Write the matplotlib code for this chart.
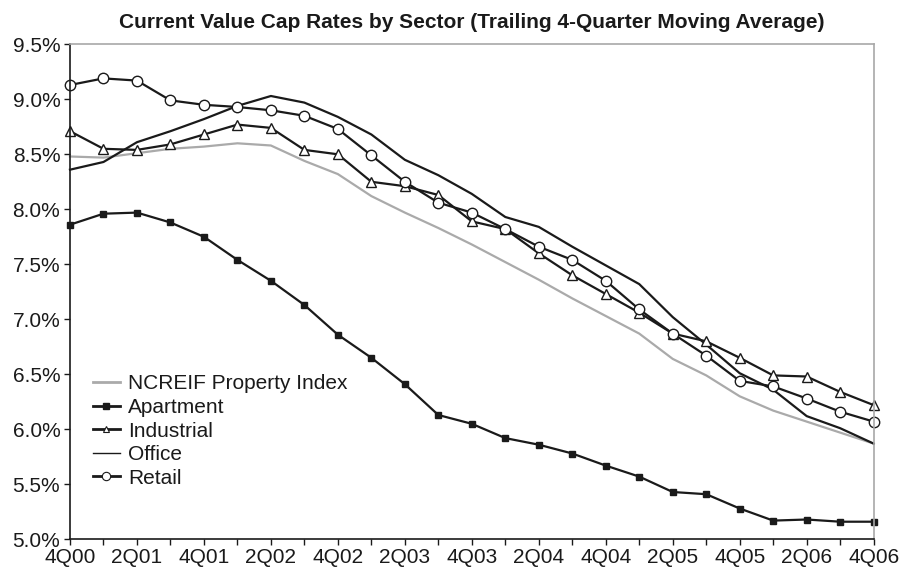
import numpy as np
import matplotlib.pyplot as plt
from matplotlib.lines import Line2D
from matplotlib.ticker import FuncFormatter

plt.rcParams['font.family'] = ['Liberation Sans', 'DejaVu Sans']

# quarters 4Q00 .. 4Q06
quarters = ['4Q00', '1Q01', '2Q01', '3Q01', '4Q01', '1Q02', '2Q02', '3Q02', '4Q02',
            '1Q03', '2Q03', '3Q03', '4Q03', '1Q04', '2Q04', '3Q04', '4Q04',
            '1Q05', '2Q05', '3Q05', '4Q05', '1Q06', '2Q06', '3Q06', '4Q06']

ncreif = [8.48, 8.47, 8.51, 8.55, 8.57, 8.60, 8.58, 8.44, 8.32, 8.12, 7.97, 7.83, 7.68,
          7.52, 7.36, 7.19, 7.03, 6.87, 6.64, 6.49, 6.30, 6.17, 6.07, 5.97, 5.87]
apartment = [7.86, 7.96, 7.97, 7.88, 7.75, 7.54, 7.35, 7.13, 6.86, 6.65, 6.41, 6.13, 6.05,
             5.92, 5.86, 5.78, 5.67, 5.57, 5.43, 5.41, 5.28, 5.17, 5.18, 5.16, 5.16]
industrial = [8.71, 8.55, 8.54, 8.59, 8.68, 8.77, 8.74, 8.54, 8.50, 8.25, 8.21, 8.13, 7.89,
              7.82, 7.60, 7.40, 7.23, 7.06, 6.87, 6.80, 6.65, 6.49, 6.48, 6.34, 6.22]
office = [8.36, 8.43, 8.61, 8.71, 8.82, 8.94, 9.03, 8.97, 8.84, 8.68, 8.45, 8.31, 8.14,
          7.93, 7.84, 7.66, 7.49, 7.32, 7.02, 6.77, 6.51, 6.36, 6.12, 6.01, 5.87]
retail = [9.13, 9.19, 9.17, 8.99, 8.95, 8.93, 8.90, 8.85, 8.73, 8.49, 8.25, 8.06, 7.97,
          7.82, 7.66, 7.54, 7.35, 7.09, 6.87, 6.67, 6.44, 6.39, 6.28, 6.16, 6.07]

x = np.arange(len(quarters))

fig = plt.figure(figsize=(9.03, 5.73), dpi=100)
ax = fig.add_axes([0.0775, 0.0588, 0.89, 0.8639])

lw = 1.6
ax.plot(x, ncreif, color='#aaaaaa', lw=lw, clip_on=False)
ax.plot(x, office, color='#1a1a1a', lw=lw, clip_on=False)
ax.plot(x, apartment, color='#1a1a1a', lw=lw, marker='s', ms=5, mfc='#1a1a1a',
        mec='#1a1a1a', clip_on=False)
ax.plot(x, industrial, color='#1a1a1a', lw=lw, marker='^', ms=7, mfc='white',
        mec='#1a1a1a', mew=1.0, clip_on=False)
ax.plot(x, retail, color='#1a1a1a', lw=lw, marker='o', ms=7.5, mfc='white',
        mec='#1a1a1a', mew=1.0, clip_on=False)

ax.set_xlim(0, 24)
ax.set_ylim(5.0, 9.5)
ax.set_yticks(np.arange(5.0, 9.51, 0.5))
ax.yaxis.set_major_formatter(FuncFormatter(lambda v, p: f'{v:.1f}%'))
ax.set_xticks(x)
ax.set_xticklabels([q if i % 2 == 0 else '' for i, q in enumerate(quarters)])
ax.tick_params(axis='both', labelsize=15, colors='#1a1a1a', length=4, width=1,
               direction='out')
ax.tick_params(axis='x', pad=2)
ax.tick_params(axis='y', pad=3)

for s in ['top', 'right']:
    ax.spines[s].set_color('#a8a8a8')
    ax.spines[s].set_linewidth(1.2)
for s in ['left', 'bottom']:
    ax.spines[s].set_color('#1a1a1a')
    ax.spines[s].set_linewidth(1.2)

ax.set_title('Current Value Cap Rates by Sector (Trailing 4-Quarter Moving Average)',
             fontsize=15, fontweight='bold', color='#1a1a1a', pad=12)

handles = [
    Line2D([], [], color='#aaaaaa', lw=2),
    Line2D([], [], color='#1a1a1a', lw=2, marker='s', ms=4, mfc='#1a1a1a'),
    Line2D([], [], color='#1a1a1a', lw=2, marker='^', ms=5, mfc='white', mew=0.8),
    Line2D([], [], color='#1a1a1a', lw=1),
    Line2D([], [], color='#1a1a1a', lw=2, marker='o', ms=6, mfc='white', mew=0.8),
]
labels = ['NCREIF Property Index', 'Apartment', 'Industrial', 'Office', 'Retail']
ax.legend(handles, labels, loc='upper left', bbox_to_anchor=(0.018, 0.35),
          frameon=False, fontsize=15, handlelength=1.3, handletextpad=0.4,
          labelspacing=0.22, borderaxespad=0, labelcolor='#1a1a1a')

fig.savefig('out.png', dpi=100)
